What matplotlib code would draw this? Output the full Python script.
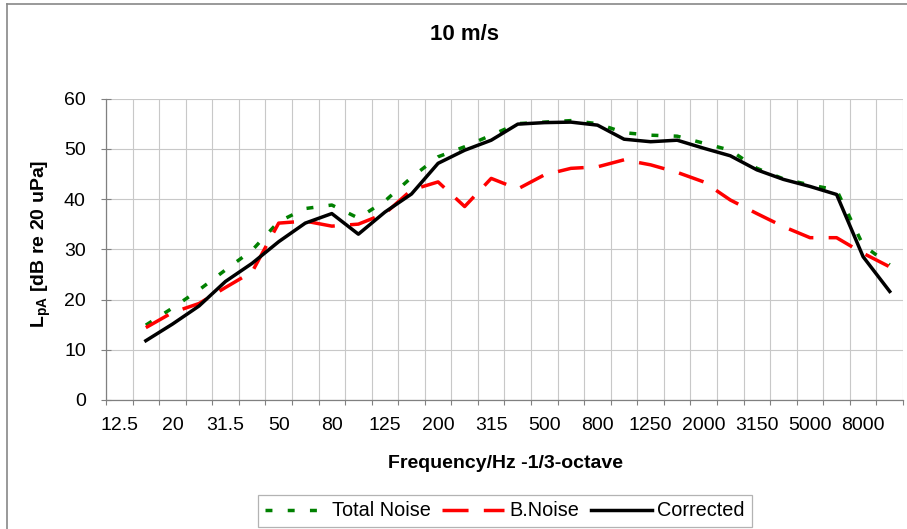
import numpy as np
import matplotlib
matplotlib.use("Agg")
import matplotlib.pyplot as plt
from matplotlib.lines import Line2D

plt.rcParams['font.family'] = ['Liberation Sans', 'DejaVu Sans']

bands = ['12.5', '16', '20', '25', '31.5', '40', '50', '63', '80', '100', '125', '160',
         '200', '250', '315', '400', '500', '630', '800', '1000', '1250', '1600', '2000',
         '2500', '3150', '4000', '5000', '6300', '8000', '10000']
# values from 16 Hz to 10000 Hz
total_noise = [14.9, 18.3, 21.9, 25.9, 29.8, 35.5, 38.1, 38.8, 36.2, 39.6, 44.3, 48.4,
               50.4, 52.7, 55.0, 55.3, 55.6, 55.0, 53.2, 52.7, 52.5, 51.1, 49.7, 46.1,
               44.0, 42.8, 41.8, 30.8, 26.9]
b_noise = [14.4, 17.4, 19.2, 22.4, 25.5, 35.2, 35.6, 34.6, 35.0, 37.1, 41.8, 43.4,
           38.5, 44.1, 42.0, 44.8, 46.1, 46.4, 47.8, 46.8, 45.3, 43.4, 39.8, 37.1,
           34.5, 32.3, 32.3, 29.2, 26.5]
corrected = [11.8, 15.1, 18.7, 23.6, 27.2, 31.5, 35.2, 37.1, 33.0, 37.4, 41.0, 47.1,
             49.7, 51.7, 54.9, 55.2, 55.3, 54.7, 51.9, 51.4, 51.7, 50.1, 48.6, 45.8,
             43.9, 42.5, 40.9, 28.5, 21.6]
yticks = [0, 10, 20, 30, 40, 50, 60]

W, H = 907, 529
fig = plt.figure(figsize=(W / 100, H / 100), dpi=100)
ax = fig.add_axes([106 / W, 1 - 400 / H, (903 - 106) / W, (400 - 98.5) / H])

x = np.arange(len(bands))
xd = x[1:]
lw = 2.5
ax.plot(xd, total_noise, color='#008000', lw=lw, dashes=(2.0, 4.4), label='Total Noise')
ax.plot(xd, b_noise, color='#FF0000', lw=lw, dashes=(7.5, 4.4), label='B.Noise')
ax.plot(xd, corrected, color='black', lw=lw, label='Corrected')

ax.set_xlim(-0.5, len(bands) - 0.5)
ax.set_ylim(0, 60)
ax.set_yticks(yticks)

# category boundaries as major ticks / grid, labels on every other category centre
ax.set_xticks(np.arange(-0.5, len(bands), 1.0))
ax.set_xticklabels([])
ax.set_xticks(x[::2], minor=True)
ax.set_xticklabels(bands[::2], minor=True)
ax.tick_params(axis='x', which='major', direction='out', length=3.6, width=0.8, color='#808080')
ax.tick_params(axis='x', which='minor', length=0, pad=12, labelsize=14)
ax.tick_params(axis='y', direction='inout', length=7, width=0.8, color='#808080', pad=11,
               labelsize=14)

ax.grid(True, which='major', color='#c8c8c8', lw=0.8)
ax.set_axisbelow(True)
for s in ['top', 'right']:
    ax.spines[s].set_visible(False)
for s in ['left', 'bottom']:
    ax.spines[s].set_color('#808080')
    ax.spines[s].set_linewidth(0.9)

fig.text(464 / W, 1 - 35 / H, '10 m/s', ha='center', va='center', fontsize=16, fontweight='bold')
fig.text(505 / W, 1 - 464 / H, 'Frequency/Hz -1/3-octave', ha='center', va='center',
         fontsize=14, fontweight='bold')
fig.text(41 / W, 1 - 244 / H, r'L$_{\mathregular{pA}}$ [dB re 20 uPa]', ha='center', va='center',
         rotation=90, fontsize=14, fontweight='bold')

leg = fig.legend(loc='center', bbox_to_anchor=(505 / W, 1 - 511 / H), ncol=3, fontsize=14.3,
                 frameon=True, fancybox=False, handlelength=3.1, handletextpad=0.25,
                 columnspacing=0.6, borderpad=0.35, borderaxespad=0)
leg.get_frame().set_edgecolor('#a0a0a0')
leg.get_frame().set_linewidth(0.9)

# outer chart border (left and top visible)
fig.add_artist(Line2D([7 / W, 7 / W], [0, 1 - 4 / H], transform=fig.transFigure,
                      color='#888888', lw=1.2))
fig.add_artist(Line2D([7 / W, 1], [1 - 4 / H, 1 - 4 / H], transform=fig.transFigure,
                      color='#888888', lw=1.2))

fig.savefig('out.png', dpi=100)
